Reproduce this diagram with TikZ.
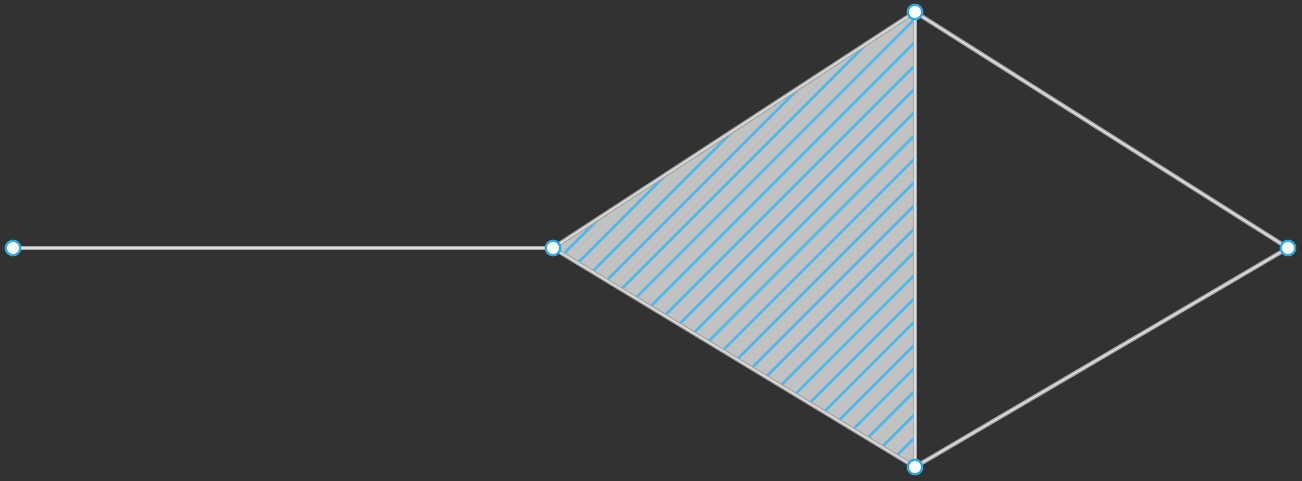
\documentclass[tikz,border=0pt]{standalone}
\definecolor{bg}{HTML}{323232}
\definecolor{edgeout}{HTML}{A8A8A8}
\definecolor{edgein}{HTML}{DEDEDE}
\definecolor{tri}{HTML}{C2C2C2}
\definecolor{hatch}{HTML}{4DB8EC}
\definecolor{ring}{HTML}{2AA8E2}
\tikzset{
  vtx/.style={circle, fill=white, draw=ring, line width=2.2pt, minimum size=14.5pt, inner sep=0pt},
  edgeo/.style={draw=edgeout, line width=4.2pt},
  edgei/.style={draw=edgein, line width=1.5pt},
}
\begin{document}
\begin{tikzpicture}[x=1pt,y=1pt]
\fill[bg] (0,0) rectangle (1302,481);
\useasboundingbox (0,0) rectangle (1302,481);
\coordinate (a) at (13,233);
\coordinate (b) at (553,233);
\coordinate (c) at (915,469);
\coordinate (d) at (915,14);
\coordinate (e) at (1288,233);
\fill[tri] (b) -- (c) -- (d) -- cycle;
\begin{scope}
\clip (b) -- (c) -- (d) -- cycle;
\foreach \k in {-21,...,7} {
  \pgfmathsetmacro\cc{-452.7+23.25*\k}
  \draw[hatch, line width=2.6pt] (530,530+\cc) -- (940,940+\cc);
}
\end{scope}
\foreach \p/\q in {a/b,b/c,b/d,c/d,c/e,d/e} {
  \draw[edgeo] (\p) -- (\q);
  \draw[edgei] (\p) -- (\q);
}
\node[vtx] (na) at (a) {};
\node[vtx] (nb) at (b) {};
\node[vtx] (nc) at (c) {};
\node[vtx] (nd) at (d) {};
\node[vtx] (ne) at (e) {};
\end{tikzpicture}
\end{document}
